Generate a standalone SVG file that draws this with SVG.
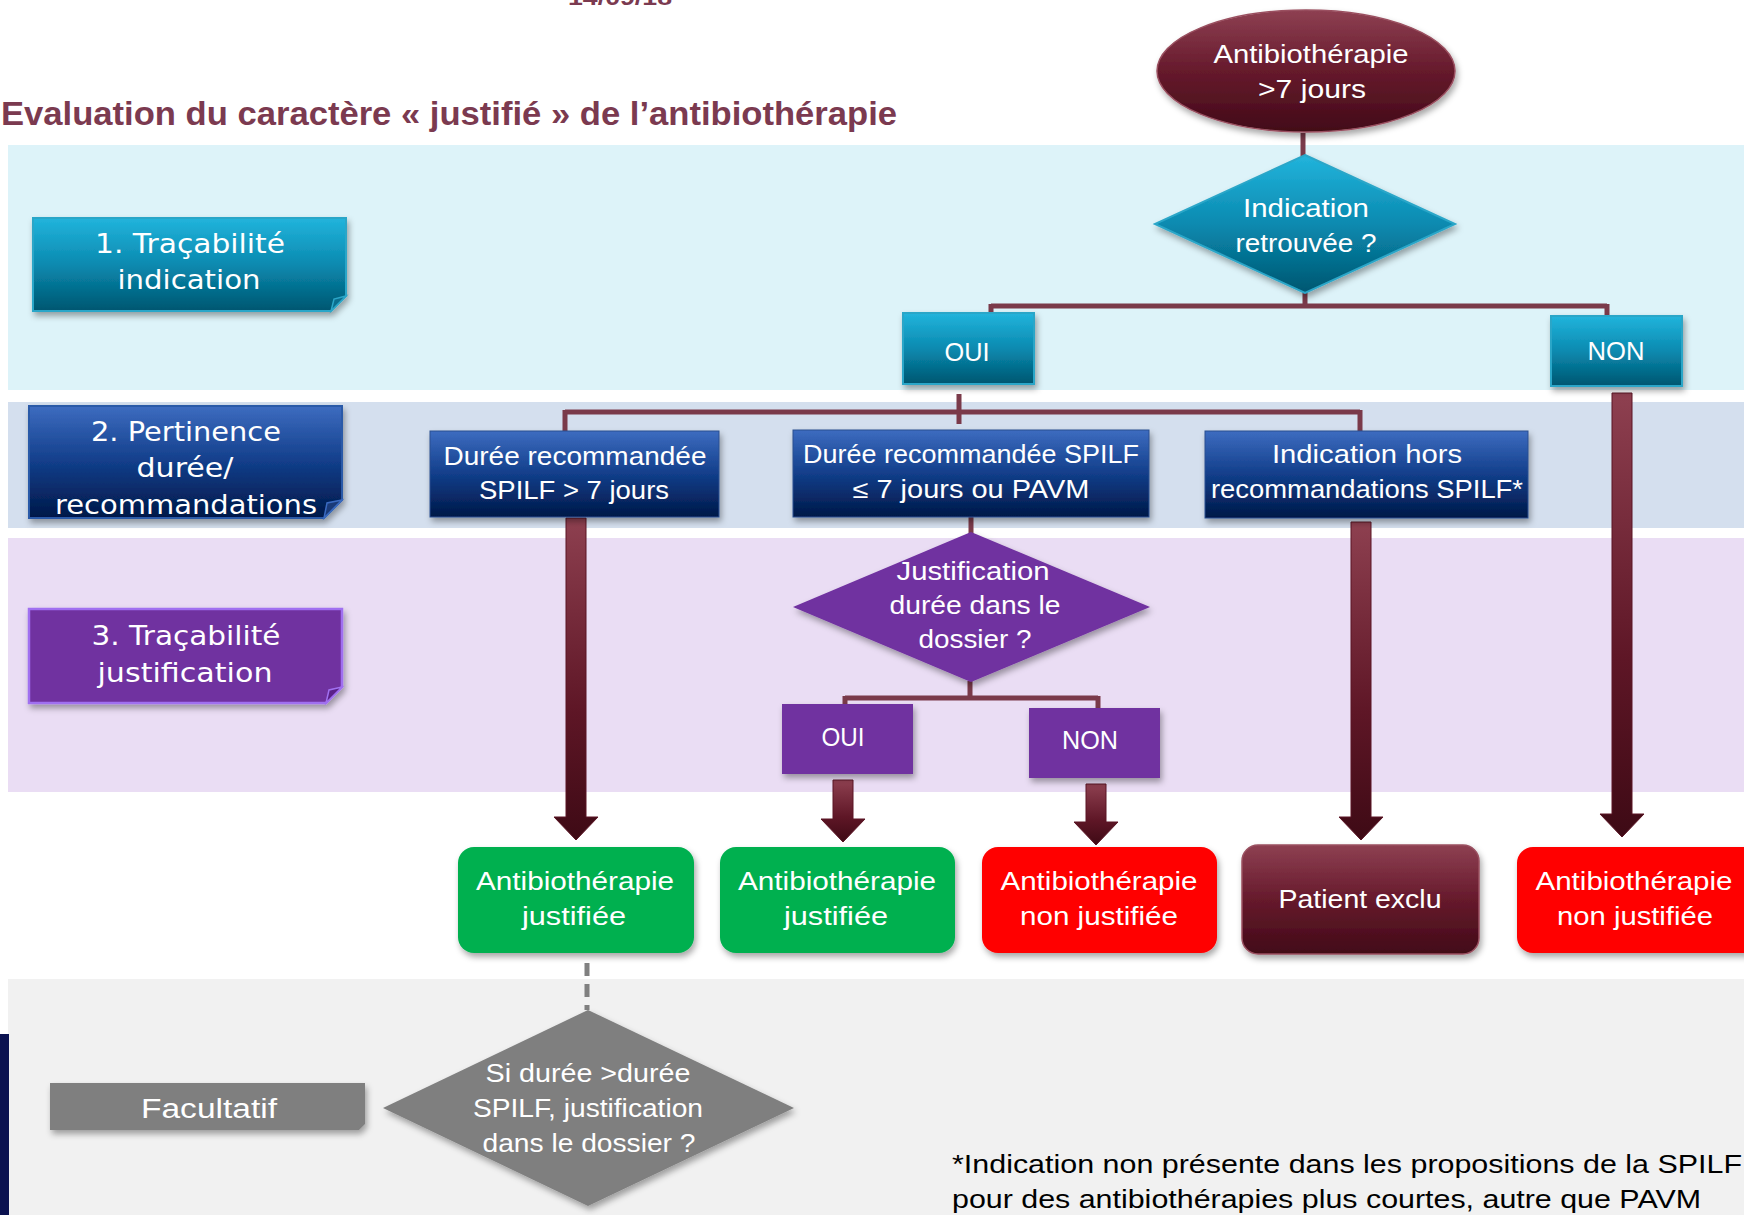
<svg xmlns="http://www.w3.org/2000/svg" width="1744" height="1215" viewBox="0 0 1744 1215">
<defs>
<linearGradient id="gTeal" x1="0" y1="0" x2="0" y2="1"><stop offset="0" stop-color="#22B4DC"/><stop offset="0.5" stop-color="#0A8AB0"/><stop offset="1" stop-color="#005670"/></linearGradient>
<linearGradient id="gNavy" x1="0" y1="0" x2="0" y2="1"><stop offset="0" stop-color="#3D6CC0"/><stop offset="0.5" stop-color="#123E8A"/><stop offset="1" stop-color="#001848"/></linearGradient>
<linearGradient id="gMaroon" x1="0" y1="0" x2="0" y2="1"><stop offset="0" stop-color="#8E4052"/><stop offset="0.5" stop-color="#661A2C"/><stop offset="1" stop-color="#420A18"/></linearGradient>
<linearGradient id="gArrow" x1="0" y1="0" x2="0" y2="1"><stop offset="0" stop-color="#8E4050"/><stop offset="0.6" stop-color="#5E1626"/><stop offset="1" stop-color="#3E0A15"/></linearGradient>
<filter id="sh" x="-20%" y="-20%" width="140%" height="150%"><feDropShadow dx="2" dy="4" stdDeviation="3" flood-color="#000" flood-opacity="0.35"/></filter>
<style>
.t{font-family:"Liberation Sans",Arial,sans-serif;fill:#fff;text-anchor:middle;font-size:25px}
.lb{font-family:"DejaVu Sans","Liberation Sans",sans-serif;fill:#fff;text-anchor:middle;font-size:27px}
.ln{fill:none;stroke:#7A3A4A;stroke-width:5}
.ar{fill:url(#gArrow);stroke:#5A1424;stroke-width:1}
.teal{fill:url(#gTeal);stroke:#2BA6C8;stroke-width:2}
.navy{fill:url(#gNavy);stroke:#2A4E90;stroke-width:1}
.pur{fill:#7030A0}
.fold{fill:none;stroke-width:2}
</style>
</defs>
<rect width="1744" height="1215" fill="#fff"/>
<g id="lanes">
<rect x="8" y="145" width="1736" height="245" fill="#DDF3F9"/>
<rect x="8" y="402" width="1736" height="126" fill="#D4DFEE"/>
<rect x="8" y="538" width="1736" height="254" fill="#EADDF4"/>
<rect x="8" y="979" width="1736" height="236" fill="#F1F1F1"/>
<rect x="0" y="1034" width="9" height="181" fill="#0B1250"/>
</g>
<g id="title">
<text x="620" y="5" style="font-family:'Liberation Sans',Arial,sans-serif;font-weight:bold;font-size:22px;fill:#7B3A50;text-anchor:middle" textLength="104" lengthAdjust="spacingAndGlyphs">14/09/18</text>
<text x="1" y="125" style="font-family:'Liberation Sans',Arial,sans-serif;font-weight:bold;font-size:34px;fill:#7B3A50" textLength="896" lengthAdjust="spacingAndGlyphs">Evaluation du caractère « justifié » de l’antibiothérapie</text>
</g>
<g id="connectors">
<path class="ln" d="M1303 133 V156"/>
<path class="ln" d="M1305 292 V306 M991 306 H1607 M991 304 V314 M1607 304 V317"/>
<path class="ln" d="M959 394 V424 M565 412 H1360 M565 410 V432 M1360 410 V432"/>
<path class="ln" d="M971 517 V534"/>
<path class="ln" d="M970 681 V698 M845 698 H1098 M845 696 V706 M1098 696 V709"/>
<path d="M587 963 V1010" fill="none" stroke="#808080" stroke-width="5" stroke-dasharray="13 8"/>
<path class="ar" d="M566 518 H586 V817 H598 L576 840 L554 817 H566 Z"/>
<path class="ar" d="M833 780 H853 V819 H865 L843 842 L821 819 H833 Z"/>
<path class="ar" d="M1086 784 H1106 V822 H1118 L1096 845 L1074 822 H1086 Z"/>
<path class="ar" d="M1351 522 H1371 V817 H1383 L1361 840 L1339 817 H1351 Z"/>
<path class="ar" d="M1612 393 H1632 V814 H1644 L1622 837 L1600 814 H1612 Z"/>
</g>
<g id="start">
<ellipse cx="1306" cy="71" rx="149" ry="61" fill="url(#gMaroon)" stroke="#9A5060" stroke-width="1.5" filter="url(#sh)"/>
<text class="t" x="1311" y="63" textLength="195" lengthAdjust="spacingAndGlyphs">Antibiothérapie</text>
<text class="t" x="1312" y="98" textLength="108" lengthAdjust="spacingAndGlyphs">&gt;7 jours</text>
</g>
<g id="label1">
<path d="M33 218 H346 V296 L331 311 H33 Z" fill="url(#gTeal)" stroke="#2BA6C8" stroke-width="2" filter="url(#sh)"/>
<path d="M346 296 L331 311 L334 299 Z" fill="#0A6E8E" stroke="#2BA6C8" stroke-width="1.5"/>
<text class="lb" x="190" y="253" textLength="190" lengthAdjust="spacingAndGlyphs">1. Traçabilité</text>
<text class="lb" x="189" y="289" textLength="143" lengthAdjust="spacingAndGlyphs">indication</text>
</g>
<g id="q1">
<polygon points="1305,155 1455,224 1305,293 1155,224" fill="url(#gTeal)" stroke="#2BA6C8" stroke-width="2" filter="url(#sh)"/>
<text class="t" x="1306" y="217" textLength="126" lengthAdjust="spacingAndGlyphs">Indication</text>
<text class="t" x="1306" y="252" textLength="141" lengthAdjust="spacingAndGlyphs">retrouvée ?</text>
</g>
<g id="oui1">
<rect class="teal" x="903" y="313" width="131" height="71" filter="url(#sh)"/>
<text class="t" x="967" y="361" textLength="45" lengthAdjust="spacingAndGlyphs">OUI</text>
</g>
<g id="non1">
<rect class="teal" x="1551" y="316" width="131" height="70" filter="url(#sh)"/>
<text class="t" x="1616" y="360" textLength="57" lengthAdjust="spacingAndGlyphs">NON</text>
</g>
<g id="label2">
<path d="M29 406 H342 V500 L324 518 H29 Z" fill="url(#gNavy)" stroke="#2A5AA8" stroke-width="2" filter="url(#sh)"/>
<path d="M342 500 L324 518 L327 503 Z" fill="#1A3A78" stroke="#3A6AC0" stroke-width="1.5"/>
<text class="lb" x="186" y="441" textLength="190" lengthAdjust="spacingAndGlyphs">2. Pertinence</text>
<text class="lb" x="185" y="477" textLength="97" lengthAdjust="spacingAndGlyphs">durée/</text>
<text class="lb" x="186" y="514" textLength="262" lengthAdjust="spacingAndGlyphs">recommandations</text>
</g>
<g id="boxA">
<rect class="navy" x="430" y="431" width="289" height="86" filter="url(#sh)"/>
<text class="t" x="575" y="465" textLength="263" lengthAdjust="spacingAndGlyphs">Durée recommandée</text>
<text class="t" x="574" y="499" textLength="190" lengthAdjust="spacingAndGlyphs">SPILF &gt; 7 jours</text>
</g>
<g id="boxB">
<rect class="navy" x="793" y="430" width="356" height="87" filter="url(#sh)"/>
<text class="t" x="971" y="463" textLength="336" lengthAdjust="spacingAndGlyphs">Durée recommandée SPILF</text>
<text class="t" x="971" y="498" textLength="237" lengthAdjust="spacingAndGlyphs">≤ 7 jours ou PAVM</text>
</g>
<g id="boxC">
<rect class="navy" x="1205" y="431" width="323" height="87" filter="url(#sh)"/>
<text class="t" x="1367" y="463" textLength="190" lengthAdjust="spacingAndGlyphs">Indication hors</text>
<text class="t" x="1367" y="498" textLength="312" lengthAdjust="spacingAndGlyphs">recommandations SPILF*</text>
</g>
<g id="label3">
<path d="M29 609 H342 V687 L326 703 H29 Z" fill="#7030A0" stroke="#A070F0" stroke-width="2.5" filter="url(#sh)"/>
<path d="M342 687 L326 703 L329 690 Z" fill="#5A2088" stroke="#A070F0" stroke-width="1.5"/>
<text class="lb" x="186" y="645" textLength="189" lengthAdjust="spacingAndGlyphs">3. Traçabilité</text>
<text class="lb" x="185" y="682" textLength="175" lengthAdjust="spacingAndGlyphs">justification</text>
</g>
<g id="q2">
<polygon class="pur" points="971,532 1150,607 971,682 793,607" filter="url(#sh)"/>
<text class="t" x="973" y="580" textLength="153" lengthAdjust="spacingAndGlyphs">Justification</text>
<text class="t" x="975" y="614" textLength="171" lengthAdjust="spacingAndGlyphs">durée dans le</text>
<text class="t" x="975" y="648" textLength="113" lengthAdjust="spacingAndGlyphs">dossier ?</text>
</g>
<g id="oui2">
<rect class="pur" x="782" y="704" width="131" height="70" filter="url(#sh)"/>
<text class="t" x="843" y="746" textLength="43" lengthAdjust="spacingAndGlyphs">OUI</text>
</g>
<g id="non2">
<rect class="pur" x="1029" y="708" width="131" height="70" filter="url(#sh)"/>
<text class="t" x="1090" y="749" textLength="56" lengthAdjust="spacingAndGlyphs">NON</text>
</g>
<g id="res1">
<rect x="458" y="847" width="236" height="106" rx="16" fill="#00B050" filter="url(#sh)"/>
<text class="t" x="575" y="890" textLength="198" lengthAdjust="spacingAndGlyphs">Antibiothérapie</text>
<text class="t" x="574" y="925" textLength="104" lengthAdjust="spacingAndGlyphs">justifiée</text>
</g>
<g id="res2">
<rect x="720" y="847" width="235" height="106" rx="16" fill="#00B050" filter="url(#sh)"/>
<text class="t" x="837" y="890" textLength="198" lengthAdjust="spacingAndGlyphs">Antibiothérapie</text>
<text class="t" x="836" y="925" textLength="104" lengthAdjust="spacingAndGlyphs">justifiée</text>
</g>
<g id="res3">
<rect x="982" y="847" width="235" height="106" rx="16" fill="#FF0000" filter="url(#sh)"/>
<text class="t" x="1099" y="890" textLength="197" lengthAdjust="spacingAndGlyphs">Antibiothérapie</text>
<text class="t" x="1099" y="925" textLength="158" lengthAdjust="spacingAndGlyphs">non justifiée</text>
</g>
<g id="res4">
<rect x="1242" y="845" width="237" height="109" rx="16" fill="url(#gMaroon)" stroke="#9A5060" stroke-width="1.5" filter="url(#sh)"/>
<text class="t" x="1360" y="908" textLength="163" lengthAdjust="spacingAndGlyphs">Patient exclu</text>
</g>
<g id="res5">
<rect x="1517" y="847" width="245" height="106" rx="16" fill="#FF0000" filter="url(#sh)"/>
<text class="t" x="1634" y="890" textLength="197" lengthAdjust="spacingAndGlyphs">Antibiothérapie</text>
<text class="t" x="1635" y="925" textLength="156" lengthAdjust="spacingAndGlyphs">non justifiée</text>
</g>
<g id="facultatif">
<path d="M50 1083 H365 V1124 L359 1130 H50 Z" fill="#7F7F7F" filter="url(#sh)"/>
<text class="t" x="209" y="1118" style="font-size:27px" textLength="136" lengthAdjust="spacingAndGlyphs">Facultatif</text>
</g>
<g id="q3">
<polygon points="588,1010 794,1108 588,1206 383,1108" fill="#7F7F7F" filter="url(#sh)"/>
<text class="t" x="588" y="1082" textLength="205" lengthAdjust="spacingAndGlyphs">Si durée &gt;durée</text>
<text class="t" x="588" y="1117" textLength="230" lengthAdjust="spacingAndGlyphs">SPILF, justification</text>
<text class="t" x="589" y="1152" textLength="213" lengthAdjust="spacingAndGlyphs">dans le dossier ?</text>
</g>
<g id="footnote">
<text x="952" y="1173" style="font-family:'Liberation Sans',Arial,sans-serif;font-size:26px;fill:#000" textLength="790" lengthAdjust="spacingAndGlyphs">*Indication non présente dans les propositions de la SPILF</text>
<text x="952" y="1208" style="font-family:'Liberation Sans',Arial,sans-serif;font-size:26px;fill:#000" textLength="749" lengthAdjust="spacingAndGlyphs">pour des antibiothérapies plus courtes, autre que PAVM</text>
</g>
</svg>
